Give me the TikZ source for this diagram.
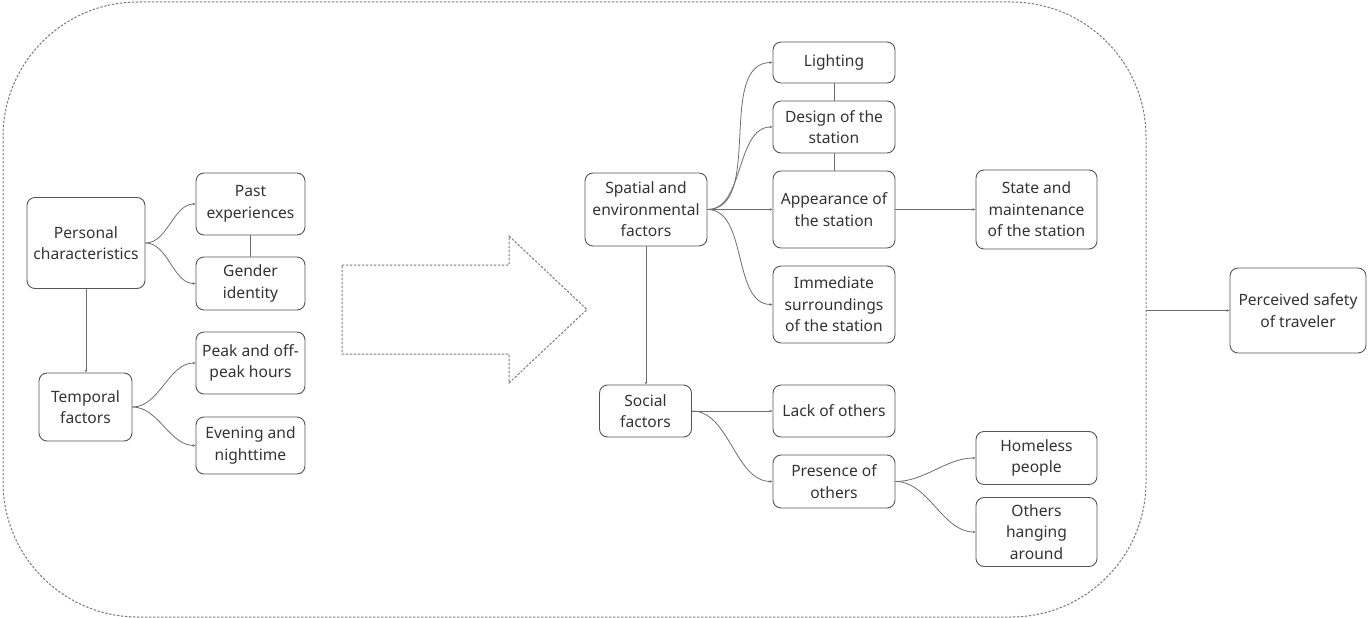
\documentclass[tikz,border=0pt]{standalone}
\usepackage{fontspec}
\setmainfont{Noto Sans}
\usetikzlibrary{arrows.meta}
\definecolor{inkgray}{HTML}{333333}
\definecolor{boxline}{HTML}{555555}
\definecolor{linkline}{HTML}{6E6E6E}
\definecolor{dashline}{HTML}{7A7A7A}
\begin{document}
\begin{tikzpicture}[x=1pt,y=-1pt,
  box/.style={draw=boxline, line width=0.9pt, rounded corners=8pt, align=center,
    inner sep=0pt, text=inkgray, font=\fontsize{15.6}{21.6}\selectfont},
  link/.style={draw=linkline, line width=0.8pt},
  branch/.style={link, -{Stealth[length=3pt,width=2.6pt]}},
  curvy/.style={branch, out=0, in=180, looseness=0.9},
  outline/.style={draw=dashline, line width=1pt, dash pattern=on 2.4pt off 1.6pt}]
\useasboundingbox (0,0) rectangle (1368,618);

% grouping frame and the transition arrow
\draw[outline, rounded corners=135pt] (3,2) rectangle (1146,617);
\draw[outline] (342,265) -- (509,265) -- (509,236) -- (587,309.5) -- (509,383) -- (509,354) -- (342,354) -- cycle;

% personal and temporal factors
\node[box, minimum width=118pt, minimum height=91pt] (personal) at (86,243) {Personal\\characteristics};
\node[box, minimum width=109pt, minimum height=62pt] (past) at (250.5,204) {Past\\experiences};
\node[box, minimum width=109pt, minimum height=53pt] (gender) at (250.5,283.5) {Gender\\identity};
\node[box, minimum width=93pt, minimum height=68pt] (temporal) at (85.5,407) {Temporal\\factors};
\node[box, minimum width=109pt, minimum height=62pt] (peak) at (250.5,363) {Peak and off-\\peak hours};
\node[box, minimum width=109pt, minimum height=57pt] (evening) at (250.5,445.5) {Evening and\\nighttime};

% spatial and environmental factors
\node[box, minimum width=122pt, minimum height=73pt] (spatial) at (646,209.5) {Spatial and\\environmental\\factors};
\node[box, minimum width=122pt, minimum height=41pt] (lighting) at (834,62.5) {Lighting};
\node[box, minimum width=122pt, minimum height=52pt] (design) at (834,127) {Design of the\\station};
\node[box, minimum width=122pt, minimum height=77pt] (appearance) at (834,209.5) {Appearance of\\the station};
\node[box, minimum width=122pt, minimum height=77pt] (immediate) at (834,304.5) {Immediate\\surroundings\\of the station};
\node[box, minimum width=121pt, minimum height=79pt] (state) at (1036.5,209.5) {State and\\maintenance\\of the station};

% social factors
\node[box, minimum width=92pt, minimum height=52pt] (social) at (645.5,411) {Social\\factors};
\node[box, minimum width=122pt, minimum height=52pt] (lack) at (834,411) {Lack of others};
\node[box, minimum width=122pt, minimum height=53pt] (presence) at (834,481.5) {Presence of\\others};
\node[box, minimum width=121pt, minimum height=53pt] (homeless) at (1036.5,458) {Homeless\\people};
\node[box, minimum width=121pt, minimum height=69pt] (hanging) at (1036.5,532) {Others\\hanging\\around};

% outcome
\node[box, minimum width=136pt, minimum height=85pt] (safety) at (1298,310.5) {Perceived safety\\of traveler};
\coordinate (frameedge) at (1146,310.5);

% connectors
\draw[curvy] (personal.east) to (past.west);
\draw[curvy] (personal.east) to (gender.west);
\draw[link] (past.south) -- (gender.north);
\draw[branch] (personal.south) -- (personal.south |- temporal.north);
\draw[curvy] (temporal.east) to (peak.west);
\draw[curvy] (temporal.east) to (evening.west);

\draw[curvy] (spatial.east) to (lighting.west);
\draw[curvy] (spatial.east) to (design.west);
\draw[branch] (spatial.east) -- (appearance.west);
\draw[curvy] (spatial.east) to (immediate.west);
\draw[link] (lighting.south) -- (design.north);
\draw[link] (design.south) -- (appearance.north);
\draw[branch] (appearance.east) -- (state.west);
\draw[branch] (spatial.south) -- (spatial.south |- social.north);

\draw[branch] (social.east) -- (lack.west);
\draw[curvy] (social.east) to (presence.west);
\draw[curvy] (presence.east) to (homeless.west);
\draw[curvy] (presence.east) to (hanging.west);

\draw[branch] (frameedge) -- (safety.west);
\end{tikzpicture}
\end{document}
